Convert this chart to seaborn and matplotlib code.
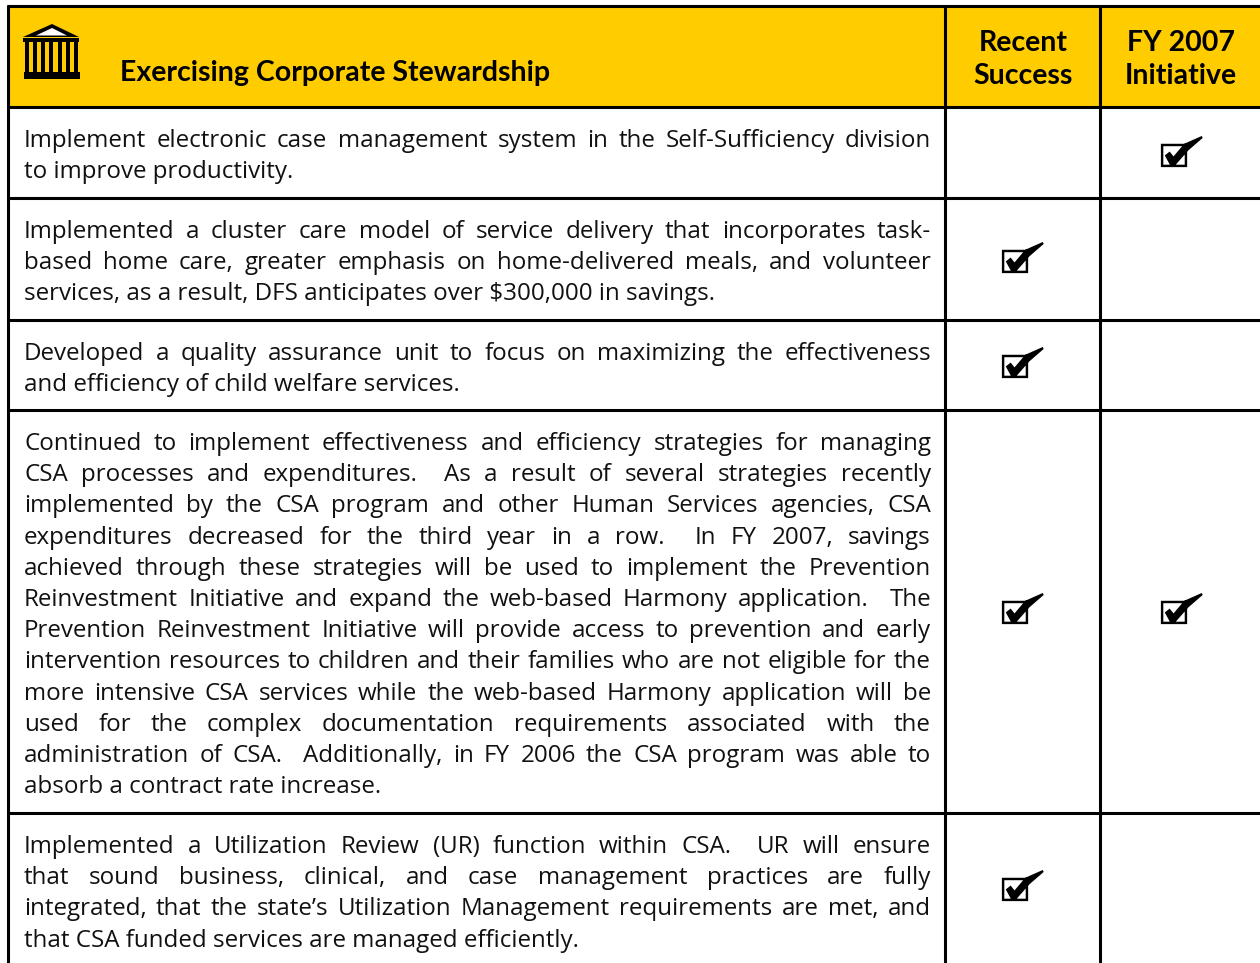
import matplotlib
matplotlib.use('Agg')
import matplotlib.pyplot as plt
import pandas as pd
import seaborn as sns
from matplotlib.path import Path
from matplotlib.patches import Polygon, Rectangle

# table content
header_title = 'Exercising Corporate Stewardship'
col_heads = [['Recent', 'Success'], ['FY 2007', 'Initiative']]

row_lines = [
    ['Implement electronic case management system in the Self-Sufficiency division',
     'to improve productivity.'],
    ['Implemented a cluster care model of service delivery that incorporates task-',
     'based home care, greater emphasis on home-delivered meals, and volunteer',
     'services, as a result, DFS anticipates over $300,000 in savings.'],
    ['Developed a quality assurance unit to focus on maximizing the effectiveness',
     'and efficiency of child welfare services.'],
    ['Continued to implement effectiveness and efficiency strategies for managing',
     'CSA processes and expenditures.  As a result of several strategies recently',
     'implemented by the CSA program and other Human Services agencies, CSA',
     'expenditures decreased for the third year in a row.  In FY 2007, savings',
     'achieved through these strategies will be used to implement the Prevention',
     'Reinvestment Initiative and expand the web-based Harmony application.  The',
     'Prevention Reinvestment Initiative will provide access to prevention and early',
     'intervention resources to children and their families who are not eligible for the',
     'more intensive CSA services while the web-based Harmony application will be',
     'used for the complex documentation requirements associated with the',
     'administration of CSA.  Additionally, in FY 2006 the CSA program was able to',
     'absorb a contract rate increase.'],
    ['Implemented a Utilization Review (UR) function within CSA.  UR will ensure',
     'that sound business, clinical, and case management practices are fully',
     'integrated, that the state\u2019s Utilization Management requirements are met, and',
     'that CSA funded services are managed efficiently.'],
]
recent_success = [0, 1, 1, 1, 1]
fy2007_initiative = [1, 0, 0, 1, 0]

# layout in pixels
W, H = 1260, 963
h_rules = [6.5, 107.5, 198.5, 320.5, 410.5, 813.5]
v_rules = [8, 945, 1100]
col_centers = [1015, 1174]
row_check_y = [153, 259, 364, 610, 887]
row_first_y = [141, 232, 354, 444, 847]
line_step = 31.2
text_left, text_right = 24, 931

sns.set_theme(style='white')
plt.rcParams['font.family'] = ['Open Sans', 'DejaVu Sans']

fig = plt.figure(figsize=(W / 100, H / 100), dpi=100)
ax = fig.add_axes([0, 0, 1, 1])
ax.set_xlim(0, W)
ax.set_ylim(H, 0)
ax.axis('off')

ax.add_patch(Rectangle((8, 7), W - 8, 100, color='#FFCC00', lw=0, zorder=0))
for y in h_rules:
    ax.plot([7, W], [y, y], color='black', lw=2.2, solid_capstyle='butt')
for x in v_rules:
    ax.plot([x, x], [5, H], color='black', lw=2.2, solid_capstyle='butt')

# headers
head_font = ['Lato', 'DejaVu Sans']
ax.text(120, 73, header_title, fontsize=20.5, fontweight='bold', family=head_font, color='black', va='center', ha='left')
for cx, lines in zip([1023, 1181], col_heads):
    ax.text(cx, 43, lines[0], fontsize=20.5, fontweight='bold', family=head_font, ha='center', va='center', color='black')
    ax.text(cx, 76, lines[1], fontsize=20.5, fontweight='bold', family=head_font, ha='center', va='center', color='black')

# building icon
ax.add_patch(Polygon([(23, 37), (52, 24), (79, 37)], color='black', lw=0))
ax.add_patch(Polygon([(36, 35.5), (52, 28), (67, 35.5)], color='white', lw=0))
ax.add_patch(Rectangle((23, 38), 56, 4, color='black', lw=0))
ax.add_patch(Rectangle((24, 72), 56, 7, color='black', lw=0))
for k in range(7):
    ax.add_patch(Rectangle((24.5 + k * 8.3, 42), 4, 31, color='black', lw=0))

# body text, justified word by word
fs = 17.4
renderer = fig.canvas.get_renderer()


def text_width(s):
    t = ax.text(0, 0, s, fontsize=fs)
    w = t.get_window_extent(renderer).width
    t.remove()
    return w


for first_y, lines in zip(row_first_y, row_lines):
    for i, line in enumerate(lines):
        y = first_y + i * line_step
        if i == len(lines) - 1:
            ax.text(text_left, y, line, fontsize=fs, va='center', color='#111111')
            continue
        # double spaces after a sentence count as two gaps
        parts = line.split(' ')
        words = [p for p in parts if p]
        widths = [text_width(w) for w in words]
        gap = (text_right - text_left - sum(widths)) / (len(parts) - 1)
        x = text_left
        k = 0
        for p in parts:
            if p:
                ax.text(x, y, p, fontsize=fs, va='center', color='#111111')
                x += widths[k]
                k += 1
            x += gap

# check marks, box and tick as one marker
box = [(-14, -10), (13, -10), (13, 14), (-14, 14), (-14, -10),
       (-11.5, -7.5), (-11.5, 11.5), (10.5, 11.5), (10.5, -7.5), (-11.5, -7.5)]
tick = [(-10, 2), (-5, -2), (-1, 3), (10, -10), (28, -18), (29, -16), (14, -3), (0, 13), (-4, 13), (-10, 2)]
verts = box + tick
codes = [Path.MOVETO] + [Path.LINETO] * 3 + [Path.CLOSEPOLY] + [Path.MOVETO] + [Path.LINETO] * 3 + [Path.CLOSEPOLY] \
    + [Path.MOVETO] + [Path.LINETO] * 8 + [Path.CLOSEPOLY]
check_marker = Path([(x, y * -1) for x, y in verts], codes)

rows = []
for i in range(5):
    if recent_success[i]:
        rows.append({'x': col_centers[0], 'y': row_check_y[i]})
    if fy2007_initiative[i]:
        rows.append({'x': col_centers[1], 'y': row_check_y[i]})
df = pd.DataFrame(rows)
sns.scatterplot(data=df, x='x', y='y', marker=check_marker, s=1650, color='black', linewidth=0, ax=ax, legend=False)
ax.set_xlim(0, W)
ax.set_ylim(H, 0)
ax.axis('off')

fig.savefig('out.png', dpi=100)
